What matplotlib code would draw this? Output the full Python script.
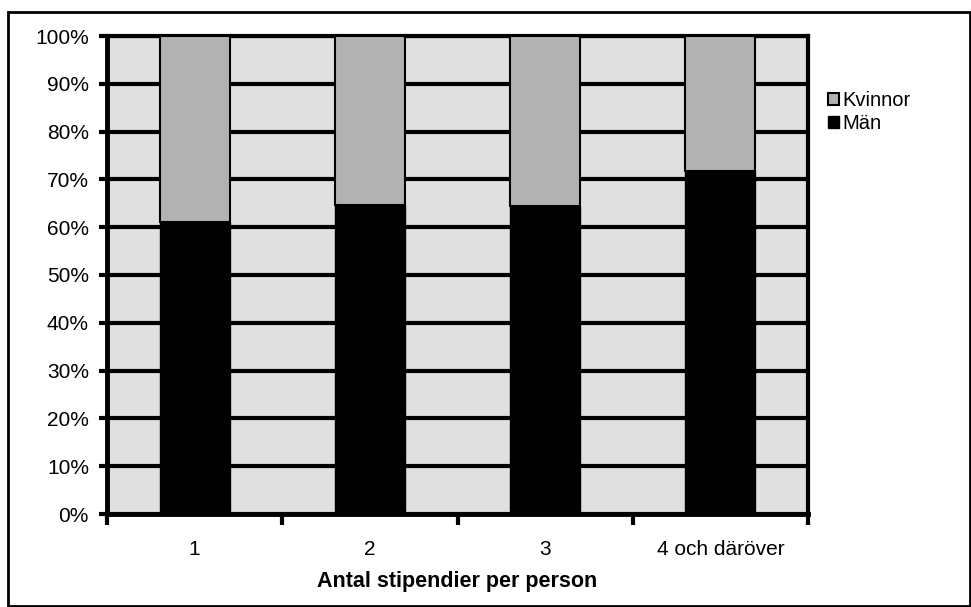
import numpy as np
import matplotlib
matplotlib.use('Agg')
import matplotlib.pyplot as plt
from matplotlib.patches import Rectangle

plt.rcParams['font.family'] = ['Liberation Sans', 'DejaVu Sans']

kategorier = ['1', '2', '3', '4 och däröver']
man = [61.1, 64.6, 64.4, 71.8]
kvinnor = [100 - m for m in man]

fig = plt.figure(figsize=(9.71, 6.07), dpi=100)
ax = fig.add_axes([107/971, 1 - 514/607, (808-107)/971, (514-36)/607])
ax.set_facecolor('#e0e0e0')

x = np.arange(len(kategorier))
ax.bar(x, man, width=0.4, color='black', edgecolor='black', linewidth=1, label='Män', zorder=3)
ax.bar(x, kvinnor, bottom=man, width=0.4, color='#b2b2b2', edgecolor='black', linewidth=1.5, label='Kvinnor', zorder=3)

ax.set_xlim(-0.5, len(kategorier) - 0.5)
ax.set_ylim(0, 100)
ax.set_yticks(np.arange(0, 101, 10))
ax.set_yticklabels([f'{v}%' for v in range(0, 101, 10)], fontsize=15)
ax.yaxis.grid(True, color='black', linewidth=3, zorder=1)
ax.set_axisbelow(True)

ax.set_xticks(np.arange(-0.5, len(kategorier), 1))
ax.set_xticklabels([])
ax.set_xticks(x, minor=True)
ax.set_xticklabels(kategorier, minor=True, fontsize=15)
ax.tick_params(axis='x', which='minor', length=0, pad=19)
ax.tick_params(axis='x', which='major', length=8, width=3, direction='out')
ax.tick_params(axis='y', length=6, width=3, direction='out', pad=7)

for s in ['left', 'bottom']:
    ax.spines[s].set_linewidth(3.5)
ax.spines['top'].set_linewidth(3)
ax.spines['right'].set_linewidth(3)

ax.set_xlabel('Antal stipendier per person', fontsize=15.5, fontweight='bold', labelpad=8)

handles, labels = ax.get_legend_handles_labels()
leg = fig.legend(handles[::-1], labels[::-1], loc='upper left', bbox_to_anchor=(810/971, 1 - 73/607),
                 frameon=False, fontsize=14.5, handlelength=0.55, handleheight=0.55,
                 handletextpad=0.15, labelspacing=0.2, borderpad=0.4)

fig.patches.append(Rectangle((8/971, 0.002), 962/971, 1 - 12/607 - 0.002, transform=fig.transFigure,
                             fill=False, edgecolor='black', linewidth=2))

fig.savefig('out.png', dpi=100)
